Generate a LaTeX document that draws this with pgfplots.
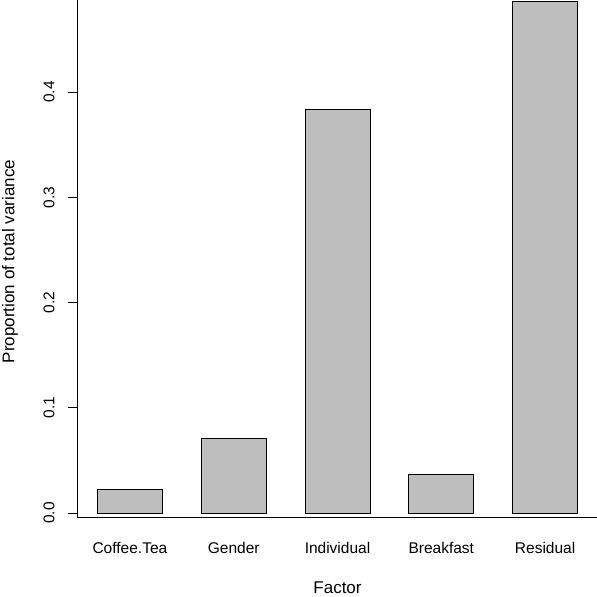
\documentclass[border=0pt]{standalone}
\usepackage{pgfplots}
\pgfplotsset{compat=1.18}
\usepackage{fontspec}
\setmainfont{Liberation Sans}
\definecolor{bargray}{RGB}{190,190,190}
\begin{document}
\fontsize{12.4}{14}\selectfont
\begin{tikzpicture}
\begin{axis}[
  name=ax,
  scale only axis,
  width=415.2pt, height=414.4pt,
  xmin=0.5, xmax=5.5,
  ymin=-0.00475, ymax=0.4875,
  axis lines*=left,
  axis line style={line width=0.8pt, black},
  tick align=outside,
  major tick length=8pt,
  xtick={1,2,3,4,5},
  xticklabels={Coffee.Tea,Gender,Individual,Breakfast,Residual},
  major x tick style={draw=none},
  major y tick style={line width=0.8pt, draw=black},
  ytick={0,0.1,0.2,0.3,0.4},
  yticklabel style={/pgf/number format/fixed,/pgf/number format/fixed zerofill,/pgf/number format/precision=1, xshift=-6.4pt, rotate=90, anchor=south},
  /pgf/number format/assume math mode=true,
  xticklabel style={anchor=center, yshift=-16pt},
  every axis x label/.style={at={(axis description cs:0.5,0)}, anchor=center, yshift=-55.5pt, inner sep=0pt, font=\fontsize{13.6}{15}\selectfont},
  every axis y label/.style={at={(axis description cs:0,0.5)}, xshift=-54.4pt, yshift=-2pt, rotate=90, anchor=center, font=\fontsize{13.6}{15}\selectfont},
  xlabel={Factor},
  ylabel={Proportion of total variance},
  ybar, bar width=52pt,
  clip=false,
]
\addplot[fill=bargray, draw=black, line width=0.8pt] coordinates {
  (1,0.0228) (2,0.0712) (3,0.3837) (4,0.0367) (5,0.4860)
};
\end{axis}
\pgfresetboundingbox
\path[use as bounding box] ([xshift=-62.4pt, yshift=-63.2pt]ax.south west) rectangle (ax.north east);
\end{tikzpicture}
\end{document}
